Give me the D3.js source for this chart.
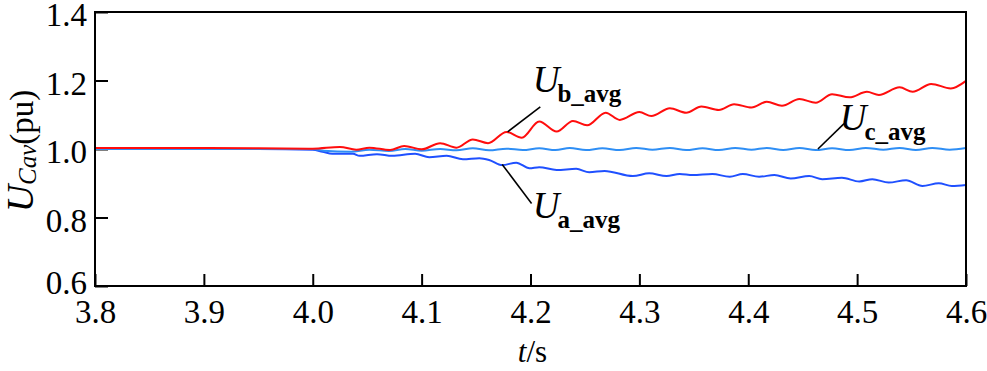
<!DOCTYPE html>
<html>
<head>
<meta charset="utf-8">
<script src="https://cdn.jsdelivr.net/npm/d3@7"></script>
<style>
  body { margin: 0; background: #fff; }
  text { font-family: "Liberation Serif", "Times New Roman", serif; fill: #000; }
</style>
</head>
<body>
<div id="chart"></div>
<script>
// tick labels
var xTicks = [3.8, 3.9, 4.0, 4.1, 4.2, 4.3, 4.4, 4.5, 4.6];
var yTicks = [0.6, 0.8, 1.0, 1.2, 1.4];

// U_b_avg (red)
var tB = [3.80, 3.90, 4.000, 4.025, 4.040, 4.052, 4.071, 4.084, 4.100, 4.117, 4.132, 4.147, 4.161, 4.178, 4.192,
          4.208, 4.224, 4.239, 4.252, 4.269, 4.282, 4.300, 4.311, 4.328, 4.343, 4.357, 4.373, 4.387, 4.403, 4.417,
          4.431, 4.447, 4.462, 4.477, 4.493, 4.509, 4.520, 4.539, 4.551, 4.568, 4.586, 4.600];
var uB = [1.003, 1.003, 1.001, 1.006, 0.998, 1.004, 0.997, 1.009, 0.999, 1.017, 1.004, 1.028, 1.017, 1.050, 1.033,
          1.080, 1.051, 1.082, 1.069, 1.106, 1.085, 1.108, 1.096, 1.119, 1.106, 1.124, 1.114, 1.131, 1.121, 1.138,
          1.126, 1.146, 1.135, 1.160, 1.151, 1.167, 1.158, 1.180, 1.167, 1.190, 1.177, 1.199];

// U_a_avg (dark blue)
var tA = [3.80, 3.95, 4.000, 4.009, 4.018, 4.037, 4.043, 4.059, 4.073, 4.094, 4.107, 4.123, 4.138, 4.153, 4.162,
          4.174, 4.187, 4.199, 4.208, 4.224, 4.242, 4.254, 4.268, 4.294, 4.309, 4.325, 4.337, 4.349, 4.367, 4.383,
          4.395, 4.410, 4.424, 4.439, 4.456, 4.468, 4.486, 4.502, 4.514, 4.529, 4.545, 4.560, 4.575, 4.587, 4.600];
var uA = [1.000, 1.000, 0.998, 0.992, 0.986, 0.986, 0.980, 0.985, 0.980, 0.986, 0.976, 0.980, 0.970, 0.973, 0.968,
          0.953, 0.960, 0.944, 0.947, 0.939, 0.942, 0.932, 0.936, 0.921, 0.929, 0.921, 0.927, 0.924, 0.927, 0.919,
          0.927, 0.919, 0.924, 0.914, 0.921, 0.912, 0.916, 0.905, 0.912, 0.902, 0.909, 0.892, 0.900, 0.892, 0.895];

// U_c_avg (light blue)
var tC = [3.80, 3.95, 4.000, 4.010, 4.035, 4.052, 4.070, 4.085, 4.100, 4.117, 4.132, 4.147, 4.162, 4.178, 4.193,
          4.208, 4.223, 4.236, 4.251, 4.266, 4.282, 4.297, 4.312, 4.328, 4.343, 4.358, 4.373, 4.388, 4.403, 4.417,
          4.432, 4.447, 4.462, 4.477, 4.493, 4.508, 4.524, 4.539, 4.554, 4.569, 4.585, 4.600];
var uC = [1.000, 1.000, 1.000, 0.995, 0.992, 0.998, 0.994, 1.000, 0.995, 1.000, 0.996, 1.002, 0.996, 1.001, 0.997,
          1.002, 0.997, 1.003, 0.997, 1.002, 0.997, 1.003, 0.998, 1.003, 0.997, 1.002, 0.997, 1.003, 0.998, 1.003,
          0.997, 1.003, 0.997, 1.002, 0.997, 1.003, 0.998, 1.003, 0.997, 1.003, 0.998, 1.003];

// annotation labels: subscript, leader line ends (data units), label anchor (data units)
var labelNames = ["b_avg", "a_avg", "c_avg"];
var leaderFrom = [[4.179, 1.050], [4.174, 0.955], [4.464, 1.000]];
var leaderTo   = [[4.209, 1.123], [4.201, 0.841], [4.488, 1.074]];
var labelAt    = [[4.202, 1.166], [4.202, 0.799], [4.484, 1.055]];

var svgWidth = 987;
var svgHeight = 371;

var margin = { top: 12, right: 21, bottom: 85, left: 95 };
var width = svgWidth - margin.left - margin.right;
var height = svgHeight - margin.top - margin.bottom;

var svg = d3.select("#chart")
  .append("svg")
  .attr("width", svgWidth)
  .attr("height", svgHeight);

var chartGroup = svg.append("g")
  .attr("transform", `translate(${margin.left}, ${margin.top})`);

var xScale = d3.scaleLinear().domain([3.8, 4.6]).range([0, width]);
var yScale = d3.scaleLinear().domain([0.6, 1.4]).range([height, 0]);

// axes, ticks pointing inward
var btmAxis = d3.axisBottom(xScale)
  .tickValues(xTicks)
  .tickFormat(d3.format(".1f"))
  .tickSize(-12)
  .tickSizeOuter(0)
  .tickPadding(14);

var lftAxis = d3.axisLeft(yScale)
  .tickValues(yTicks)
  .tickFormat(d3.format(".1f"))
  .tickSize(-13)
  .tickSizeOuter(0)
  .tickPadding(8);

var gx = chartGroup.append("g")
  .attr("transform", `translate(0, ${height})`)
  .call(btmAxis);

var gy = chartGroup.append("g")
  .call(lftAxis);

[gx, gy].forEach(function(g) {
  g.select(".domain").remove();
  g.selectAll(".tick line").attr("stroke", "#000").attr("stroke-width", 2);
  g.selectAll(".tick text")
    .style("font-family", "'Liberation Serif', 'Times New Roman', serif")
    .style("font-size", "33px")
    .attr("fill", "#000");
});
gy.selectAll(".tick text").attr("dy", d => d === 0.6 ? "0.22em" : "0.42em");

// series lines
var line = d3.line()
  .x(d => xScale(d[0]))
  .y(d => yScale(d[1]))
  .curve(d3.curveMonotoneX);

var series = [
  { t: tA, u: uA, color: "#1f50ff" },
  { t: tC, u: uC, color: "#2e8ef5" },
  { t: tB, u: uB, color: "#ff0d0d" }
];

series.forEach(function(s) {
  chartGroup.append("path")
    .datum(s.t.map((t, i) => [t, s.u[i]]))
    .attr("fill", "none")
    .attr("stroke", s.color)
    .attr("stroke-width", 2)
    .attr("d", line);
});

// frame
chartGroup.append("rect")
  .attr("x", 0)
  .attr("y", 0)
  .attr("width", width)
  .attr("height", height)
  .attr("fill", "none")
  .attr("stroke", "#000")
  .attr("stroke-width", 2);

// leader lines and labels
labelNames.forEach(function(name, i) {
  chartGroup.append("line")
    .attr("x1", xScale(leaderFrom[i][0]))
    .attr("y1", yScale(leaderFrom[i][1]))
    .attr("x2", xScale(leaderTo[i][0]))
    .attr("y2", yScale(leaderTo[i][1]))
    .attr("stroke", "#000")
    .attr("stroke-width", 1.6);

  var lbl = chartGroup.append("text")
    .attr("x", xScale(labelAt[i][0]))
    .attr("y", yScale(labelAt[i][1]));
  lbl.append("tspan")
    .style("font-style", "italic")
    .style("font-size", "37px")
    .text("U");
  lbl.append("tspan")
    .attr("dx", -2)
    .attr("dy", 10)
    .style("font-weight", "bold")
    .style("font-size", "25px")
    .text(name);
});

// axis titles
var yTitle = svg.append("text")
  .attr("transform", "translate(33, 151) rotate(-90)")
  .attr("text-anchor", "middle");
yTitle.append("tspan").style("font-style", "italic").style("font-size", "38px").text("U");
yTitle.append("tspan").attr("dy", 3).style("font-style", "italic").style("font-size", "25px").text("Cav");
yTitle.append("tspan").attr("dy", -3).style("font-size", "33px").text("(pu)");

var xTitle = svg.append("text")
  .attr("x", margin.left + width / 2 + 2)
  .attr("y", 362)
  .attr("text-anchor", "middle")
  .style("font-size", "31px");
xTitle.append("tspan").style("font-style", "italic").text("t");
xTitle.append("tspan").text("/s");
</script>
</body>
</html>
